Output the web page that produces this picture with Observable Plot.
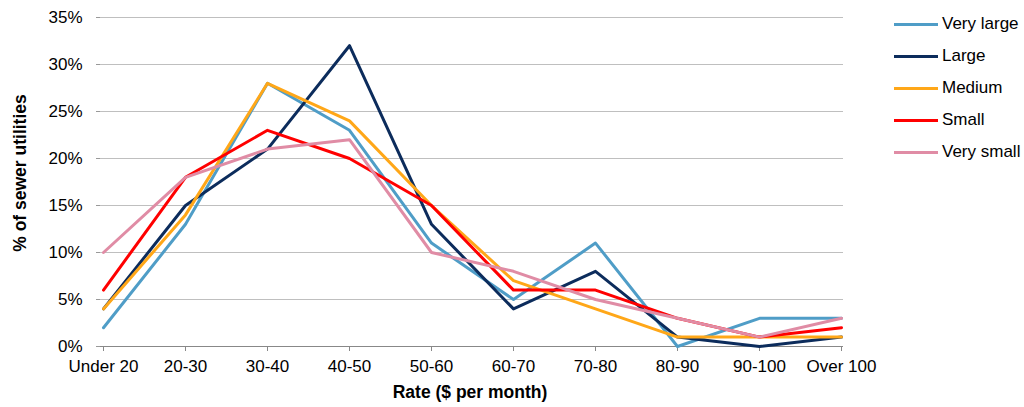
<!DOCTYPE html>
<html>
<head>
<meta charset="utf-8">
<script src="https://cdn.jsdelivr.net/npm/d3@7"></script>
<script src="https://cdn.jsdelivr.net/npm/@observablehq/plot@0.6"></script>
<style>
  body { margin: 0; background: #fff; font-family: "Liberation Sans", Arial, sans-serif; }
  #wrap { position: relative; width: 1024px; height: 407px; }
  #legend { position: absolute; left: 894px; top: 8px; }
  .item { display: flex; align-items: center; height: 32px; font-size: 17px; color: #000; }
  .swatch { width: 44px; height: 3px; margin-right: 4px; }
  .ytitle { position: absolute; left: 20px; top: 173px; transform: translate(-50%, -50%) rotate(-90deg);
            white-space: nowrap; font-weight: bold; font-size: 17.5px; }
  .xtitle { position: absolute; left: 470px; top: 392px; transform: translate(-50%, -50%);
            white-space: nowrap; font-weight: bold; font-size: 17.5px; }
</style>
</head>
<body>
<div id="wrap">
  <div id="chart"></div>
  <div class="ytitle">% of sewer utilities</div>
  <div class="xtitle">Rate ($ per month)</div>
  <div id="legend"></div>
</div>
<script>
// Monthly sewer rate brackets
const rates = ["Under 20", "20-30", "30-40", "40-50", "50-60", "60-70", "70-80", "80-90", "90-100", "Over 100"];

// Utility size classes and their line colours
const sizes = ["Very large", "Large", "Medium", "Small", "Very small"];
const sizeColors = ["#4f9dc7", "#0c2c5c", "#ffa718", "#ff0000", "#e08ca5"];

// Share of sewer utilities (%) in each rate bracket, per size class
const veryLarge = [2, 13, 28, 23, 11, 5, 11, 0, 3, 3];
const large     = [4, 15, 21, 32, 13, 4, 8, 1, 0, 1];
const medium    = [4, 14, 28, 24, 15, 7, 4, 1, 1, 1];
const small     = [6, 18, 23, 20, 15, 6, 6, 3, 1, 2];
const verySmall = [10, 18, 21, 22, 10, 8, 5, 3, 1, 3];

const series = [veryLarge, large, medium, small, verySmall];
const rows = series.flatMap((vals, i) =>
  vals.map((v, j) => ({ size: sizes[i], rate: rates[j], share: v / 100 }))
);

const chart = Plot.plot({
  width: 1024,
  height: 407,
  marginLeft: 100,
  marginRight: 181,
  marginTop: 17,
  marginBottom: 61,
  style: { fontFamily: "Liberation Sans, Arial, sans-serif", fontSize: "17px", color: "#000", background: "#fff" },
  x: { type: "point", domain: rates, padding: 0, label: null },
  y: { domain: [0, 0.35], label: null },
  color: { domain: sizes, range: sizeColors },
  marks: [
    Plot.gridY(d3.range(0.05, 0.351, 0.05), { stroke: "#bfbfbf", strokeOpacity: 1, strokeWidth: 1 }),
    Plot.axisY(d3.range(0, 0.351, 0.05), {
      tickSize: 4, tickPadding: 14, stroke: "#999",
      tickFormat: d => Math.round(d * 100) + "%", label: null
    }),
    Plot.axisX({ tickSize: 5, tickPadding: 8, stroke: "#888", label: null }),
    Plot.ruleY([0], { stroke: "#888" }),
    Plot.line(rows, { x: "rate", y: "share", z: "size", stroke: "size", strokeWidth: 3 })
  ]
});
document.getElementById("chart").append(chart);

// Legend to the right of the plot
const legend = document.getElementById("legend");
sizes.forEach((s, i) => {
  const item = document.createElement("div");
  item.className = "item";
  item.innerHTML = `<span class="swatch" style="background:${sizeColors[i]}"></span><span>${s}</span>`;
  legend.append(item);
});
</script>
</body>
</html>
